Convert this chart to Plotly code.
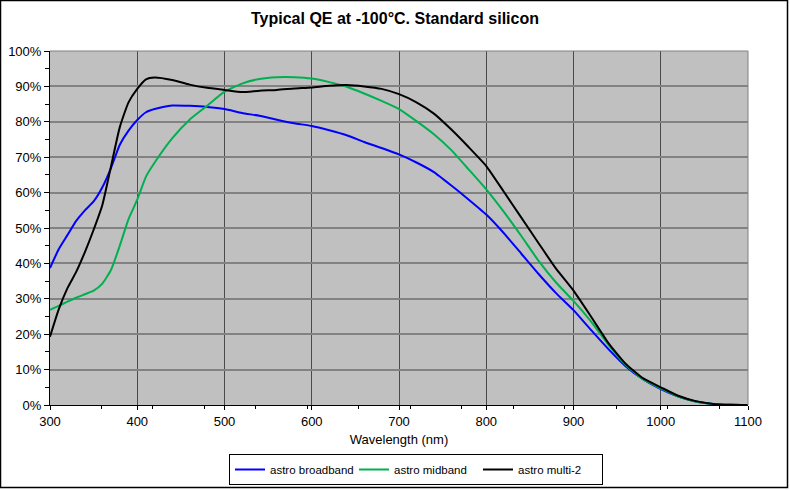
import plotly.graph_objects as go

# Wavelength grids (nm)
wl_fine = [300, 310, 320, 330, 340, 350, 360, 370, 380, 390, 400, 410, 420]
wl_coarse = [440, 460, 480, 500, 520, 540, 560, 580, 600, 620, 640, 660, 680, 700,
             720, 740, 760, 780, 800, 820, 840, 860, 880, 900, 920, 940, 960, 980,
             1000, 1020, 1040, 1060, 1080, 1100]
wavelength = wl_fine + wl_coarse

# QE (%) per series
broadband = [38.7, 44.0, 48.0, 52.0, 55.0, 57.5, 61.5, 67.0, 73.5, 77.5, 80.5, 82.7, 83.6,
             84.6, 84.5, 84.2, 83.6, 82.5, 81.7, 80.6, 79.6, 78.8, 77.6, 76.2, 74.3, 72.6, 70.8,
             68.5, 65.8, 62.0, 58.0, 53.8, 48.6, 42.8, 37.0, 31.6, 26.8, 21.2, 15.8, 10.9, 7.2,
             4.5, 2.4, 1.0, 0.3, 0.05, 0.0]
midband = [26.9, 28.0, 29.2, 30.3, 31.3, 32.3, 34.3, 38.2, 45.0, 52.5, 58.0, 64.5, 68.5,
           75.3, 80.6, 84.5, 88.5, 90.8, 92.1, 92.6, 92.6, 92.2, 91.2, 89.9, 88.0, 85.9, 83.6,
           80.2, 76.5, 72.0, 66.5, 60.9, 54.6, 47.8, 40.7, 34.6, 29.4, 23.6, 17.0, 11.3, 7.2,
           4.7, 2.4, 1.0, 0.3, 0.05, 0.0]
multi2 = [19.3, 27.0, 33.0, 37.6, 43.2, 49.5, 56.5, 67.5, 78.5, 85.5, 89.3, 92.0, 92.5,
          91.8, 90.5, 89.6, 89.0, 88.4, 88.8, 89.0, 89.4, 89.7, 90.2, 90.4, 90.0, 89.3, 87.8,
          85.5, 82.3, 77.8, 72.8, 67.5, 60.3, 53.0, 45.7, 38.5, 32.3, 25.0, 17.5, 11.6, 7.5,
          5.0, 2.6, 1.1, 0.3, 0.05, 0.0]

series_names = ["astro broadband", "astro midband", "astro multi-2"]
series_colors = ["#0000FF", "#00B050", "#000000"]
series_values = [broadband, midband, multi2]

x_ticks = [300, 400, 500, 600, 700, 800, 900, 1000, 1100]
y_ticks = [0, 10, 20, 30, 40, 50, 60, 70, 80, 90, 100]

fig = go.Figure()
for name, col, vals in zip(series_names, series_colors, series_values):
    fig.add_trace(go.Scatter(
        x=wavelength, y=vals, mode="lines", name=name,
        line=dict(color=col, width=2, shape="spline", smoothing=0.5),
    ))

W, H = 790, 490
L, R, T, B = 50, 42, 51, 85
pw, ph = W - L - R, H - T - B

fig.update_layout(
    width=W, height=H,
    margin=dict(l=L, r=R, t=T, b=B, autoexpand=False),
    paper_bgcolor="white",
    plot_bgcolor="#C0C0C0",
    font=dict(family="Arial, Liberation Sans, sans-serif", size=13, color="black"),
    title=dict(text="<b>Typical QE at -100°C. Standard silicon</b>",
               x=0.5, xanchor="center", xref="container",
               y=1 - 18 / H, yanchor="middle", yref="container",
               font=dict(size=16, color="black")),
    showlegend=True,
    legend=dict(orientation="h", x=(416 - L) / pw, xanchor="center",
                y=(H - B - 454) / ph, yanchor="top",
                bgcolor="white", bordercolor="black", borderwidth=1,
                font=dict(size=11.5), itemwidth=30, tracegroupgap=0,
                entrywidth=79),
)

fig.update_xaxes(
    range=[300, 1100], tickvals=x_ticks, ticktext=[str(v) for v in x_ticks],
    showgrid=True, gridcolor="#4a4a4a", gridwidth=1,
    showline=True, linecolor="black", linewidth=1,
    ticks="outside", ticklen=4, tickcolor="black",
    minor=dict(tick0=300, dtick=59, ticks="outside", ticklen=3, tickcolor="black", showgrid=False),
    zeroline=False, automargin=False,
    title=dict(text="Wavelength (nm)", font=dict(size=13), standoff=7),
)
fig.update_yaxes(
    range=[0, 100], tickvals=y_ticks, ticktext=[f"{v}%" for v in y_ticks],
    showgrid=True, gridcolor="#828282", gridwidth=2,
    showline=True, linecolor="black", linewidth=1,
    ticks="outside", ticklen=5, tickcolor="black",
    minor=dict(dtick=5, ticks="outside", ticklen=4, tickcolor="black", showgrid=False),
    zeroline=False, automargin=False,
)

# plot area top/right border (gray)
fig.add_shape(type="line", xref="paper", yref="paper", x0=0, x1=1, y0=1, y1=1,
              line=dict(color="#808080", width=1))
fig.add_shape(type="line", xref="paper", yref="paper", x0=1, x1=1, y0=0, y1=1,
              line=dict(color="#808080", width=1))
# outer chart border
fig.add_shape(type="rect", xref="paper", yref="paper",
              x0=(0.5 - L) / pw, x1=(787.5 - L) / pw,
              y0=(H - B - 487.5) / ph, y1=(H - B - 0.5) / ph,
              line=dict(color="black", width=1.5), fillcolor="rgba(0,0,0,0)")

fig.write_html("out.html", config={"displayModeBar": False},
               post_script="document.body.style.margin='0';document.body.style.overflow='hidden';")
